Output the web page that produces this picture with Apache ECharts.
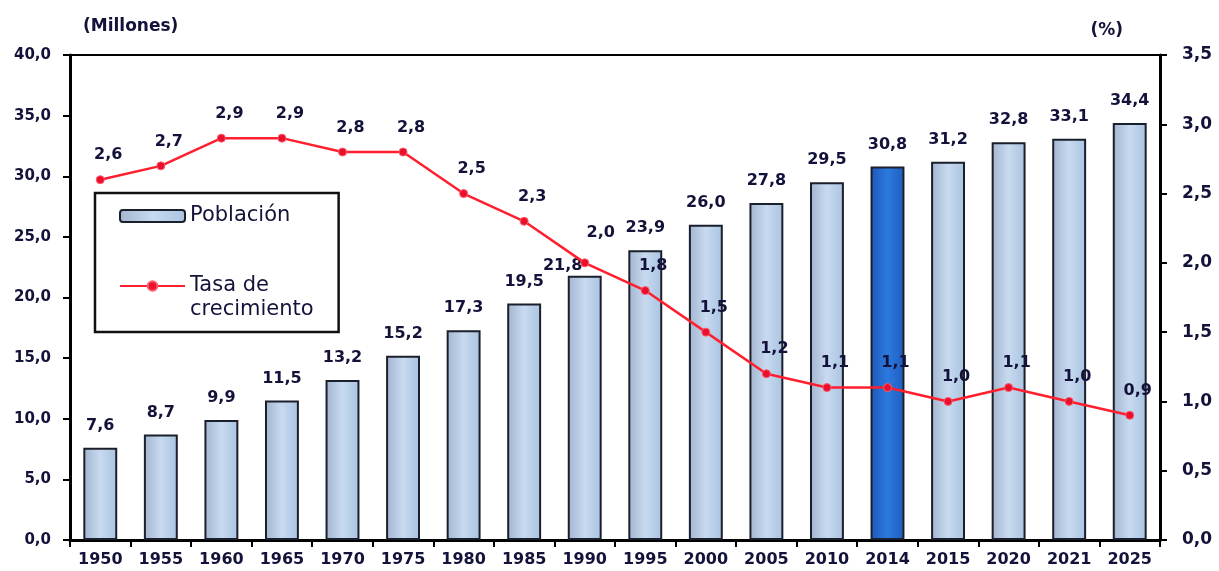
<!DOCTYPE html>
<html>
<head>
<meta charset="utf-8">
<script src="https://cdn.jsdelivr.net/npm/echarts@6/dist/echarts.min.js"></script>
<style>
  html, body { margin: 0; padding: 0; background: #ffffff; }
  #chart { width: 1219px; height: 571px; }
</style>
</head>
<body>
<div id="chart"></div>
<script>
// Población total (millones) y tasa de crecimiento (%) por año
const years = ['1950', '1955', '1960', '1965', '1970', '1975', '1980', '1985', '1990',
               '1995', '2000', '2005', '2010', '2014', '2015', '2020', '2021', '2025'];
const poblacion = [7.6, 8.7, 9.9, 11.5, 13.2, 15.2, 17.3, 19.5, 21.8,
                   23.9, 26.0, 27.8, 29.5, 30.8, 31.2, 32.8, 33.1, 34.4];
const tasaCrecimiento = [2.6, 2.7, 2.9, 2.9, 2.8, 2.8, 2.5, 2.3, 2.0,
                         1.8, 1.5, 1.2, 1.1, 1.1, 1.0, 1.1, 1.0, 0.9];
const leftTicks = { min: 0, max: 40, interval: 5 };
const rightTicks = { min: 0, max: 3.5, interval: 0.5 };
const highlightYear = '2014';

const FONT = 'DejaVu Sans';
const INK = '#12123a';
const comma = v => Number(v).toFixed(1).replace('.', ',');

const barFill = new echarts.graphic.LinearGradient(0, 0, 1, 0, [
  { offset: 0, color: '#a3b5cf' },
  { offset: 0.5, color: '#c7daf0' },
  { offset: 1, color: '#a9c3df' }
]);
const barFillHi = new echarts.graphic.LinearGradient(0, 0, 1, 0, [
  { offset: 0, color: '#1d58b8' },
  { offset: 0.5, color: '#2c7ade' },
  { offset: 1, color: '#1f5cbf' }
]);

// label nudges where the bar and line labels would collide
const barLabelNudge = { '1990': [-22, 12] };
const lineLabelNudge = { '1990': [16, -6] };

const barData = poblacion.map((v, i) => {
  const item = { value: v };
  if (years[i] === highlightYear) item.itemStyle = { color: barFillHi };
  if (barLabelNudge[years[i]]) item.label = { offset: barLabelNudge[years[i]] };
  return item;
});
const lineData = tasaCrecimiento.map((v, i) =>
  lineLabelNudge[years[i]] ? { value: v, label: { offset: lineLabelNudge[years[i]] } } : v
);

const chart = echarts.init(document.getElementById('chart'), null, { renderer: 'canvas' });

chart.setOption({
  backgroundColor: '#ffffff',
  animation: false,
  grid: {
    left: 70, right: 59, top: 55, bottom: 31,
    show: true, borderColor: '#000000', borderWidth: 2, backgroundColor: 'transparent'
  },
  legend: {
    orient: 'vertical',
    left: 95, top: 193,
    padding: [11, 25, 10, 24],
    itemGap: 22,
    itemWidth: 65, itemHeight: 12,
    borderColor: '#111111', borderWidth: 2.5,
    backgroundColor: '#ffffff',
    textStyle: { fontFamily: FONT, fontSize: 21, color: INK, lineHeight: 24 },
    data: [
      { name: 'Población', itemStyle: { color: barFill, borderColor: '#1b1f2b', borderWidth: 2 } },
      { name: 'Tasa de crecimiento' }
    ],
    // the blank first line keeps "Tasa de" level with the line marker
    formatter: name => name === 'Tasa de crecimiento' ? ' \nTasa de\ncrecimiento' : name
  },
  xAxis: {
    type: 'category',
    data: years,
    axisLine: { lineStyle: { color: '#000000', width: 3 } },
    axisTick: { show: true, interval: 0, length: 7, lineStyle: { color: '#000000', width: 2 } },
    axisLabel: { interval: 0, fontFamily: FONT, fontWeight: 'bold', fontSize: 16, color: INK, margin: 12 }
  },
  yAxis: [
    {
      type: 'value',
      min: leftTicks.min, max: leftTicks.max, interval: leftTicks.interval,
      name: '(Millones)',
      nameLocation: 'end',
      nameGap: 20,
      nameTextStyle: { fontFamily: FONT, fontWeight: 'bold', fontSize: 17, color: INK, align: 'left', padding: [0, 0, 0, 13] },
      axisLine: { show: true, lineStyle: { color: '#000000', width: 3 } },
      axisTick: { show: true, length: 7, lineStyle: { color: '#000000', width: 2 } },
      axisLabel: { fontFamily: FONT, fontWeight: 'bold', fontSize: 15, color: INK, margin: 19, formatter: comma },
      splitLine: { show: false }
    },
    {
      type: 'value',
      position: 'right',
      min: rightTicks.min, max: rightTicks.max, interval: rightTicks.interval,
      name: '(%)',
      nameLocation: 'end',
      nameGap: 16,
      nameTextStyle: { fontFamily: FONT, fontWeight: 'bold', fontSize: 17, color: INK, align: 'right', padding: [0, 37, 0, 0] },
      axisLine: { show: true, lineStyle: { color: '#000000', width: 3 } },
      axisTick: { show: true, length: 7, lineStyle: { color: '#000000', width: 2 } },
      axisLabel: { fontFamily: FONT, fontWeight: 'bold', fontSize: 17, color: INK, margin: 22, formatter: comma },
      splitLine: { show: false }
    }
  ],
  series: [
    {
      name: 'Población',
      type: 'bar',
      yAxisIndex: 0,
      barWidth: '56%',
      data: barData,
      itemStyle: { color: barFill, borderColor: '#1b1f2b', borderWidth: 2 },
      label: {
        show: true, position: 'top', distance: 14,
        fontFamily: FONT, fontWeight: 'bold', fontSize: 16, color: INK,
        formatter: p => comma(p.value)
      },
      z: 2
    },
    {
      name: 'Tasa de crecimiento',
      type: 'line',
      yAxisIndex: 1,
      data: lineData,
      symbol: 'circle',
      symbolSize: 8,
      lineStyle: { color: '#ff1f2e', width: 2.5 },
      itemStyle: { color: '#e8102c', borderColor: '#ff5a6a', borderWidth: 1 },
      label: {
        show: true, position: 'top', distance: 12, offset: [8, 0],
        fontFamily: FONT, fontWeight: 'bold', fontSize: 16, color: INK,
        formatter: p => comma(p.value)
      },
      z: 5
    }
  ]
});
</script>
</body>
</html>
